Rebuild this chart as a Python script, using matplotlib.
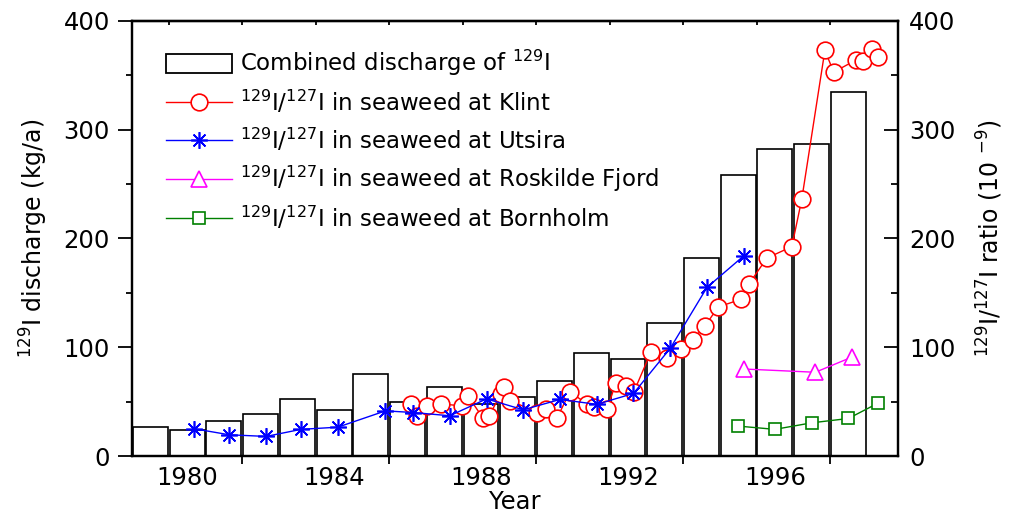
import numpy as np
import matplotlib
matplotlib.use("Agg")
import matplotlib.pyplot as plt
from matplotlib.patches import Patch

plt.rcParams['font.family'] = ['DejaVu Sans']
plt.rcParams['mathtext.fontset'] = 'dejavusans'

# Combined discharge of 129I (kg/a), one bar per year
lata = np.arange(1979, 1999)
zrzut = [27, 23.5, 32.5, 38.5, 52.5, 42, 75, 50, 63, 48,
         54, 69, 95, 89, 122, 182, 258, 282, 287, 335]

# 129I/127I in seaweed (10^-9)
klint_x = [1986.1, 1986.26, 1986.53, 1986.91, 1987.48, 1987.65, 1988.05, 1988.22,
           1988.54, 1988.63, 1988.8, 1989.52, 1989.77, 1990.07, 1990.42, 1990.88,
           1991.07, 1991.43, 1991.67, 1991.95, 1992.16, 1992.63, 1993.06, 1993.44,
           1993.76, 1994.11, 1994.45, 1995.07, 1995.29, 1995.78, 1996.46, 1996.73,
           1997.36, 1997.6, 1998.2, 1998.39, 1998.64, 1998.8]
klint_y = [48, 37, 46, 48, 46, 55, 35, 37,
           57, 63, 51, 40, 43, 35, 59, 48,
           45, 43, 67, 64, 59, 96, 90, 98,
           107, 120, 137, 144, 158, 182, 192.5, 236,
           373, 353, 364, 363, 374, 367]

utsira_x = [1980.2, 1981.15, 1982.15, 1983.1, 1984.1, 1985.4, 1986.15, 1987.15,
            1988.15, 1989.15, 1990.15, 1991.15, 1992.15, 1993.15, 1994.15, 1995.15]
utsira_y = [25, 19.5, 18, 24.5, 26.5, 41.5, 40, 37,
            52.5, 42.5, 52, 47.5, 57.5, 99, 155, 184]

roskilde_x = [1995.15, 1997.1, 1998.1]
roskilde_y = [80, 77, 91]

bornholm_x = [1995.0, 1996.0, 1997.0, 1998.0, 1998.8]
bornholm_y = [27.5, 24.5, 30.5, 34.5, 48.5]

fig = plt.figure(figsize=(10.15, 5.13), dpi=100)
ax = fig.add_axes([132/1015, 57/513, 766/1015, 435/513])

ax.bar(lata, zrzut, width=0.95, facecolor='white', edgecolor='black', linewidth=1.2)
ax.set_xlim(1978.5, 1999.35)
ax.set_ylim(0, 400)

# lata opisane w srodku slupkow, kreski na krawedziach
ax.set_xticks([1981.5, 1985.5, 1989.5, 1993.5, 1997.5])
ax.set_xticklabels([])
ax.set_xticks([1980, 1984, 1988, 1992, 1996], minor=True)
ax.set_xticklabels(['1980', '1984', '1988', '1992', '1996'], minor=True)
ax.tick_params(axis='x', which='major', direction='out', length=6, width=1.3, top=False)
ax.tick_params(axis='x', which='minor', length=0, pad=7, labelsize=17.5, top=False)

ax.set_yticks([0, 100, 200, 300, 400])
ax.set_yticks([50, 150, 250, 350], minor=True)
ax.tick_params(axis='y', which='major', direction='out', length=10, width=1.3, pad=6, labelsize=17.5)
ax.tick_params(axis='y', which='minor', direction='out', length=4, width=1.3)

gora = ax.secondary_xaxis('top')
gora.set_xticks(np.arange(1979.5, 1999, 2))
gora.set_xticklabels([])
gora.tick_params(direction='in', length=3, width=1.3)

ax2 = ax.twinx()
ax2.set_ylim(0, 400)
ax2.set_yticks([0, 100, 200, 300, 400])
ax2.set_yticks([50, 150, 250, 350], minor=True)
ax2.tick_params(axis='y', which='major', direction='in', length=10, width=1.3, pad=8, labelsize=17.5)
ax2.tick_params(axis='y', which='minor', direction='in', length=5, width=1.3)

for a in (ax, ax2):
    for s in a.spines.values():
        s.set_linewidth(1.6)
gora.spines['top'].set_linewidth(1.6)

l1, = ax2.plot(klint_x, klint_y, '-', color='red', lw=1.0, marker='o', ms=12,
               mfc='white', mec='red', mew=1.2)
l2, = ax2.plot(utsira_x, utsira_y, '-', color='blue', lw=1.0, marker=(8, 2, 0), ms=12,
               mec='blue', mew=1.2)
l3, = ax2.plot(roskilde_x, roskilde_y, '-', color='magenta', lw=1.0, marker='^', ms=12,
               mfc='white', mec='magenta', mew=1.2)
l4, = ax2.plot(bornholm_x, bornholm_y, '-', color='green', lw=1.0, marker='s', ms=9,
               mfc='white', mec='green', mew=1.2)

ax.set_xlabel('Year', fontsize=17.5, labelpad=0)
ax.set_ylabel('$^{129}$I discharge (kg/a)', fontsize=17, labelpad=10)
ax2.set_ylabel('$^{129}$I/$^{127}$I ratio (10 $^{-9}$)', fontsize=17, labelpad=14)

slupek = Patch(facecolor='white', edgecolor='black', linewidth=1.3)
opisy = ['Combined discharge of $^{129}$I',
         '$^{129}$I/$^{127}$I in seaweed at Klint',
         '$^{129}$I/$^{127}$I in seaweed at Utsira',
         '$^{129}$I/$^{127}$I in seaweed at Roskilde Fjord',
         '$^{129}$I/$^{127}$I in seaweed at Bornholm']
ax2.legend([slupek, l1, l2, l3, l4], opisy, loc='upper left', frameon=False,
           bbox_to_anchor=(166/1015, 1 - 48/513), bbox_transform=fig.transFigure,
           borderpad=0, borderaxespad=0, fontsize=16.5, handlelength=2.9,
           handleheight=0.9, handletextpad=0.35, labelspacing=0.46)

plt.savefig('out.png', dpi=100)
